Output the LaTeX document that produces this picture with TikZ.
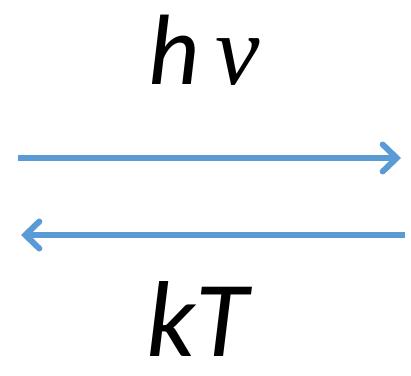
\documentclass[tikz,border=0pt]{standalone}
\usepackage{fontspec}
\setmainfont{Carlito}
\newfontfamily\greekfont{Liberation Serif}
\usetikzlibrary{arrows.meta}
\definecolor{skyblue}{RGB}{91,155,213}
\tikzset{
  energy/.style={font=\fontsize{#1}{#1}\selectfont\itshape,inner sep=0pt,anchor=base,text depth=0pt},
  energy/.default=100,
  trans/.style={draw=skyblue,line width=6pt,-{Straight Barb[length=14pt,width=27pt,line cap=round]}},
}
\begin{document}
\begin{tikzpicture}[x=1pt,y=-1pt]
  \useasboundingbox (0,0) rectangle (411,375);
  \node[energy] (photon) at (204,84) {h\hspace{0.15em}{\greekfont ν}};
  \node[energy=108] (thermal) at (197,356) {kT};
  % forward and backward
  \coordinate (fwdA) at (18,158);
  \coordinate (fwdB) at (401,158);
  \coordinate (bwdA) at (405,235);
  \coordinate (bwdB) at (21,235);
  \draw[trans] (fwdA) -- (fwdB);
  \draw[trans] (bwdA) -- (bwdB);
\end{tikzpicture}
\end{document}
